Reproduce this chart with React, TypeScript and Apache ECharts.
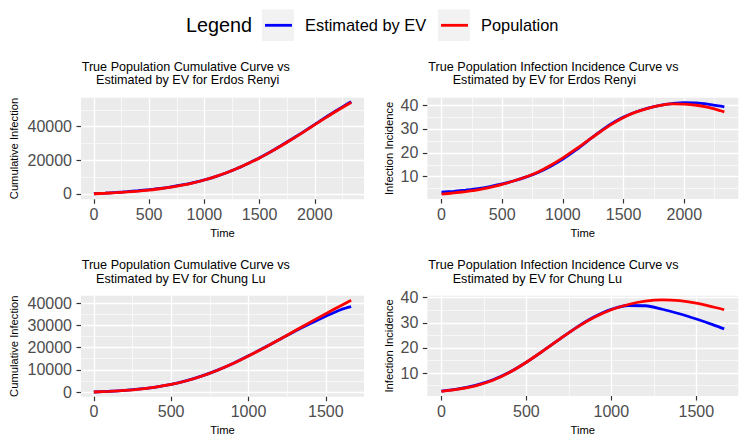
import React, { useEffect, useRef } from "react";
import * as echarts from "echarts";

// ---------- data ----------
const TIME_ER = [0, 100, 200, 300, 400, 500, 600, 700, 800, 900, 1000, 1100, 1200, 1300, 1400, 1500, 1600, 1700, 1800, 1900, 2000, 2100, 2200, 2300, 2330];
const ER_CUM_EV = [0, 370, 780, 1250, 1800, 2450, 3200, 4150, 5250, 6600, 8250, 10200, 12500, 15200, 18250, 21500, 25100, 28950, 33000, 37100, 41400, 45700, 49800, 53800, 54900];
const ER_CUM_POP = [0, 300, 650, 1080, 1600, 2250, 3000, 3950, 5100, 6500, 8200, 10200, 12500, 15200, 18200, 21400, 25000, 28800, 32800, 36900, 41200, 45400, 49500, 53400, 54400];
const ER_INC_EV = [3.5, 3.9, 4.4, 5.0, 5.9, 7.0, 8.3, 9.9, 11.9, 14.4, 17.4, 20.9, 24.8, 28.7, 32.2, 35.0, 37.1, 38.7, 39.9, 40.6, 41.0, 40.9, 40.3, 39.5, 39.2];
const ER_INC_POP = [2.7, 3.2, 3.8, 4.5, 5.5, 6.8, 8.3, 10.0, 12.1, 14.8, 17.9, 21.3, 24.9, 28.5, 31.9, 34.8, 37.0, 38.6, 39.8, 40.5, 40.4, 39.9, 39.0, 37.6, 37.1];

const TIME_CL = [0, 100, 200, 300, 400, 500, 600, 700, 800, 900, 1000, 1100, 1200, 1300, 1400, 1500, 1600, 1664];
const CL_CUM_EV = [0, 330, 760, 1370, 2230, 3430, 5080, 7230, 9850, 12850, 16250, 19850, 23600, 27300, 30800, 34100, 37100, 38400];
const CL_CUM_POP = [0, 320, 740, 1330, 2200, 3400, 5050, 7200, 9800, 12800, 16200, 19800, 23600, 27500, 31400, 35200, 38900, 41200];
const CL_INC_EV = [2.8, 3.7, 5.1, 7.2, 10.3, 14.3, 18.9, 23.7, 28.4, 32.4, 35.4, 36.9, 36.8, 35.4, 33.6, 31.5, 29.2, 27.6];
const CL_INC_POP = [2.7, 3.6, 4.9, 7.0, 10.2, 14.3, 18.9, 23.7, 28.3, 32.2, 35.2, 37.3, 38.6, 39.1, 38.8, 37.8, 36.3, 35.2];

const X_TICKS_ER = [0, 500, 1000, 1500, 2000];
const X_MINOR_ER = [250, 750, 1250, 1750, 2250];
const X_TICKS_CL = [0, 500, 1000, 1500];
const X_MINOR_CL = [250, 750, 1250];
const Y_TICKS_ER_CUM = [0, 20000, 40000];
const Y_MINOR_ER_CUM = [10000, 30000, 50000];
const Y_TICKS_CL_CUM = [0, 10000, 20000, 30000, 40000];
const Y_MINOR_CL_CUM = [5000, 15000, 25000, 35000];
const Y_TICKS_INC = [10, 20, 30, 40];
const Y_MINOR_INC = [5, 15, 25, 35];

const SERIES_NAMES = ["Estimated by EV", "Population"];
const SERIES_COLORS = ["#0000FF", "#FF0000"];

const TITLES = [
  ["True Population Cumulative Curve vs", "Estimated by EV for Erdos Renyi"],
  ["True Population Infection Incidence Curve vs", "Estimated by EV for Erdos Renyi"],
  ["True Population Cumulative Curve vs", "Estimated by EV for Chung Lu"],
  ["True Population Infection Incidence Curve vs", "Estimated by EV for Chung Lu"],
];
const Y_NAMES = ["Cumulative Infection", "Infection Incidence", "Cumulative Infection", "Infection Incidence"];
const X_NAME = "Time";

const FONT = '"Liberation Sans", Arial, Helvetica, sans-serif';

const pairs = (xs: number[], ys: number[]) => xs.map((x, i) => [x, ys[i]]);

export default function App() {
  const ref = useRef<HTMLDivElement>(null);

  useEffect(() => {
    if (!ref.current) return;
    const chart = echarts.init(ref.current, undefined, { renderer: "svg" });

    const grids = [
      { left: 81, top: 97.7, width: 283, height: 101.6 },
      { left: 427.3, top: 97.7, width: 311, height: 101.3 },
      { left: 81, top: 295.7, width: 283, height: 101 },
      { left: 427.3, top: 295.7, width: 311, height: 100.3 },
    ];
    const xRanges = [[-117, 2445], [-117, 2445], [-83, 1747], [-83, 1747]];
    const yRanges = [[-3300, 57300], [0.67, 43.06], [-2112, 43281], [0.84, 40.8]];
    const xTicks = [X_TICKS_ER, X_TICKS_ER, X_TICKS_CL, X_TICKS_CL];
    const xMinor = [X_MINOR_ER, X_MINOR_ER, X_MINOR_CL, X_MINOR_CL];
    const yTicks = [Y_TICKS_ER_CUM, Y_TICKS_INC, Y_TICKS_CL_CUM, Y_TICKS_INC];
    const yMinor = [Y_MINOR_ER_CUM, Y_MINOR_INC, Y_MINOR_CL_CUM, Y_MINOR_INC];
    const yNameGaps = [61.5, 33, 61.5, 33];
    const titleLeft = [[81.7, 96], [428.3, 452.7], [81.7, 96], [428.3, 452.7]];
    const titleTop = [[59.8, 73.2], [59.8, 73.2], [258.3, 271.7], [258.3, 271.7]];

    const panelData = [
      [pairs(TIME_ER, ER_CUM_EV), pairs(TIME_ER, ER_CUM_POP)],
      [pairs(TIME_ER, ER_INC_EV), pairs(TIME_ER, ER_INC_POP)],
      [pairs(TIME_CL, CL_CUM_EV), pairs(TIME_CL, CL_CUM_POP)],
      [pairs(TIME_CL, CL_INC_EV), pairs(TIME_CL, CL_INC_POP)],
    ];

    const labelStyle = { fontSize: 16, color: "#4D4D4D", fontFamily: FONT };
    const nameStyle = { fontSize: 11.2, color: "#000000", fontFamily: FONT };
    const majorSplit = { show: true, lineStyle: { color: "#FFFFFF", width: 1.3 } };
    const minorSplit = { show: true, lineStyle: { color: "#FFFFFF", width: 0.6 } };
    const tickStyle = { color: "#333333", width: 1.2 };

    const xAxes: any[] = [];
    const yAxes: any[] = [];
    for (let i = 0; i < 4; i++) {
      xAxes.push({
        type: "value", gridIndex: i, min: xRanges[i][0], max: xRanges[i][1], position: "bottom",
        name: X_NAME, nameLocation: "middle", nameGap: 28, nameTextStyle: nameStyle,
        axisLine: { show: false, onZero: false },
        axisTick: { show: true, length: 4.5, lineStyle: tickStyle, customValues: xTicks[i] },
        axisLabel: { show: true, margin: 7, customValues: xTicks[i], formatter: (v: number) => String(v), ...labelStyle },
        splitLine: majorSplit,
      });
      yAxes.push({
        type: "value", gridIndex: i, min: yRanges[i][0], max: yRanges[i][1], position: "left",
        name: Y_NAMES[i], nameLocation: "middle", nameGap: yNameGaps[i], nameTextStyle: nameStyle,
        axisLine: { show: false, onZero: false },
        axisTick: { show: true, length: 4.5, lineStyle: tickStyle, customValues: yTicks[i] },
        axisLabel: { show: true, margin: 9, customValues: yTicks[i], formatter: (v: number) => String(v), ...labelStyle },
        splitLine: majorSplit,
      });
    }
    for (let i = 0; i < 4; i++) {
      xAxes.push({
        type: "value", gridIndex: i, min: xRanges[i][0], max: xRanges[i][1], position: "bottom",
        axisLine: { show: false, onZero: false },
        axisTick: { show: false, customValues: xMinor[i] },
        axisLabel: { show: false },
        splitLine: minorSplit,
      });
      yAxes.push({
        type: "value", gridIndex: i, min: yRanges[i][0], max: yRanges[i][1], position: "left",
        axisLine: { show: false, onZero: false },
        axisTick: { show: false, customValues: yMinor[i] },
        axisLabel: { show: false },
        splitLine: minorSplit,
      });
    }

    const series: any[] = [];
    for (let i = 0; i < 4; i++) {
      for (let s = 0; s < 2; s++) {
        series.push({
          type: "line", name: SERIES_NAMES[s], xAxisIndex: i, yAxisIndex: i,
          data: panelData[i][s], showSymbol: false, symbol: "none", smooth: 0.3, silent: true,
          itemStyle: { color: SERIES_COLORS[s] },
          lineStyle: { color: SERIES_COLORS[s], width: 2.8 },
          z: 2 + s,
        });
      }
    }

    const titles: any[] = [];
    for (let i = 0; i < 4; i++) {
      for (let l = 0; l < 2; l++) {
        titles.push({
          text: TITLES[i][l], left: titleLeft[i][l], top: titleTop[i][l], padding: 0,
          textStyle: { fontSize: 12.6, fontWeight: "normal", color: "#000000", fontFamily: FONT, lineHeight: 14 },
        });
      }
    }

    const legendBase = {
      orient: "horizontal", top: 15.3, padding: 0, itemWidth: 27, itemHeight: 2.8, icon: "rect",
      selectedMode: false,
      textStyle: { fontSize: 16.4, color: "#000000", fontFamily: FONT, lineHeight: 20, padding: [0, 0, 0, 8] },
    };

    chart.setOption({
      animation: false,
      backgroundColor: "#FFFFFF",
      textStyle: { fontFamily: FONT },
      title: titles,
      grid: grids.map((g) => ({ ...g, show: true, backgroundColor: "#EBEBEB", borderWidth: 0, containLabel: false, outerBoundsMode: "none" })),
      xAxis: xAxes,
      yAxis: yAxes,
      legend: [
        { ...legendBase, left: 265, data: [SERIES_NAMES[0]] },
        { ...legendBase, left: 441, data: [SERIES_NAMES[1]] },
      ],
      graphic: [
        { type: "rect", shape: { x: 262, y: 9.3, width: 32, height: 31.7 }, style: { fill: "#F2F2F2" }, silent: true },
        { type: "rect", shape: { x: 438, y: 9.3, width: 32, height: 31.7 }, style: { fill: "#F2F2F2" }, silent: true },
        {
          type: "text", x: 186, y: 25.3, silent: true,
          style: { text: "Legend", fontSize: 19.8, fontFamily: FONT, fill: "#000000", verticalAlign: "middle", textVerticalAlign: "middle" },
        },
      ],
      series,
    });

    return () => chart.dispose();
  }, []);

  return <div ref={ref} style={{ position: "absolute", left: 0, top: 0, width: 747, height: 447 }} />;
}
